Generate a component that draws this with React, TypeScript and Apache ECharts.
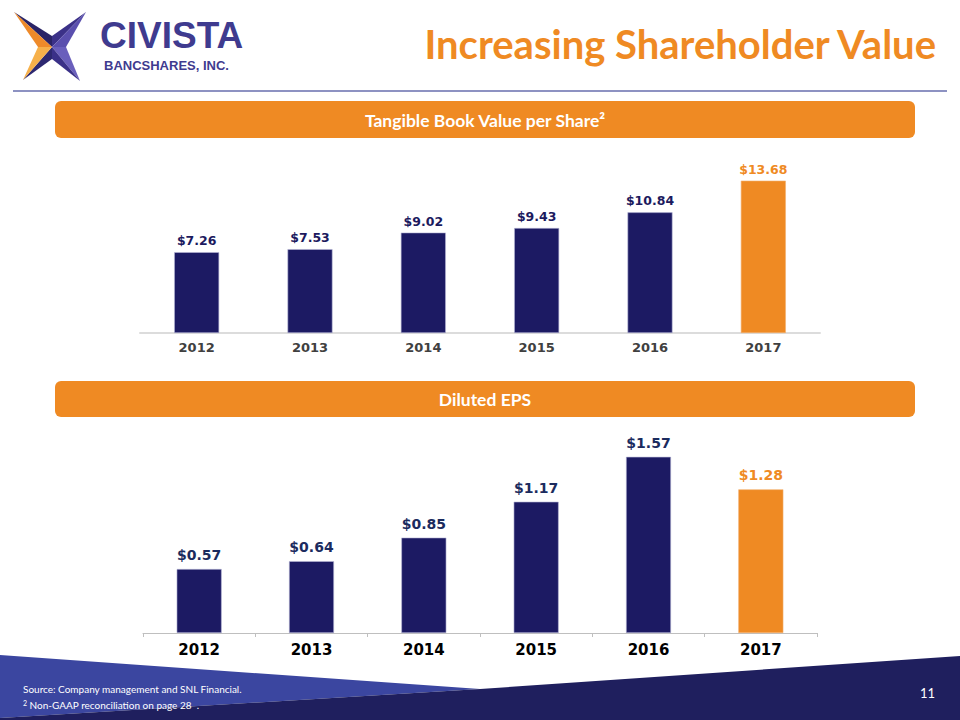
import React, { useEffect, useRef } from "react";
import * as echarts from "echarts";

const years = ["2012", "2013", "2014", "2015", "2016", "2017"];
const tangibleBookValue = [7.26, 7.53, 9.02, 9.43, 10.84, 13.68];
const dilutedEps = [0.57, 0.64, 0.85, 1.17, 1.57, 1.28];
const highlightYear = "2017";

const NAVY = "#1c1a63";
const ORANGE = "#ef8a23";
const LOGO_PURPLE = "#3f3b8f";
const CHART_FONT = "DejaVu Sans";

function barData(values: number[], labelColor: string) {
  return values.map((v, i) => {
    const hi = years[i] === highlightYear;
    return {
      value: v,
      itemStyle: { color: hi ? ORANGE : NAVY, borderColor: hi ? "#f3b071" : "#b9b8d6", borderWidth: 0.6 },
      label: { color: hi ? ORANGE : labelColor },
    };
  });
}

export default function App() {
  const ref = useRef<HTMLDivElement>(null);
  useEffect(() => {
    if (!ref.current) return;
    const chart = echarts.init(ref.current, null, { renderer: "svg" });

    const C = [52, 47];
    const TL = [14, 12], TR = [86, 12], BR = [80, 81], BL = [23, 80];
    const T = [52, 36], R = [66, 47], B = [52, 59], L = [38, 47];
    const tri = (pts: number[][], color: string) => ({
      type: "polygon",
      shape: { points: pts },
      style: { fill: color },
      silent: true,
    });

    const option: any = {
      animation: false,
      backgroundColor: "#ffffff",
      grid: [
        { left: 140, width: 680, top: 166, height: 167 },
        { left: 143, width: 674, top: 431, height: 202 },
      ],
      xAxis: [
        {
          gridIndex: 0,
          type: "category",
          data: years,
          axisLine: { lineStyle: { color: "#dcdcdc", width: 2 } },
          axisTick: { show: false },
          axisLabel: { color: "#404040", fontWeight: "bold", fontSize: 13, fontFamily: CHART_FONT, margin: 8 },
        },
        {
          gridIndex: 1,
          type: "category",
          data: years,
          axisLine: { lineStyle: { color: "#bfbfbf", width: 1 } },
          axisTick: { show: true, length: 4, lineStyle: { color: "#bfbfbf" } },
          axisLabel: { color: "#000000", fontWeight: "bold", fontSize: 15, fontFamily: CHART_FONT, margin: 9 },
        },
      ],
      yAxis: [
        { gridIndex: 0, type: "value", min: 0, max: 15, show: false, splitLine: { show: false } },
        { gridIndex: 1, type: "value", min: 0, max: 1.8, show: false, splitLine: { show: false } },
      ],
      series: [
        {
          type: "bar",
          xAxisIndex: 0,
          yAxisIndex: 0,
          barWidth: 45,
          data: barData(tangibleBookValue, "#1c1a5e"),
          label: {
            show: true,
            position: "top",
            distance: 5,
            fontSize: 12.5,
            fontWeight: "bold",
            fontFamily: CHART_FONT,
            formatter: (p: any) => "$" + Number(p.value).toFixed(2),
          },
        },
        {
          type: "bar",
          xAxisIndex: 1,
          yAxisIndex: 1,
          barWidth: 45,
          data: barData(dilutedEps, "#1b2b5e"),
          label: {
            show: true,
            position: "top",
            distance: 7,
            fontSize: 14,
            fontWeight: "bold",
            fontFamily: CHART_FONT,
            formatter: (p: any) => "$" + Number(p.value).toFixed(2),
          },
        },
      ],
      graphic: [
        // footer
        { type: "polygon", shape: { points: [[0, 655], [480, 689], [0, 718]] }, style: { fill: "#3b46a0" }, silent: true },
        { type: "polygon", shape: { points: [[0, 718], [480, 689], [960, 656], [960, 720], [0, 720]] }, style: { fill: "#1f1f5e" }, silent: true },
        {
          type: "text",
          left: 23,
          top: 684,
          style: { text: "Source: Company management and SNL Financial.", fill: "#ffffff", fontSize: 10, fontFamily: "Lato" },
        },
        {
          type: "text",
          left: 23,
          top: 699,
          style: {
            text: "{s|2} Non-GAAP reconciliation on page 28  .",
            fill: "#ffffff",
            fontSize: 10,
            fontFamily: "Lato",
            rich: { s: { fontSize: 7, verticalAlign: "top", fill: "#ffffff", fontFamily: "Lato", padding: [0, 0, 4, 0] } },
          },
        },
        {
          type: "text",
          x: 935,
          y: 693,
          style: { text: "11", fill: "#ffffff", fontSize: 13, fontFamily: "Lato", align: "right", verticalAlign: "middle" },
        },
        // header rule
        { type: "line", shape: { x1: 13, y1: 91, x2: 947, y2: 91 }, style: { stroke: "#8d92c2", lineWidth: 2 }, silent: true },
        // title
        {
          type: "text",
          x: 936,
          y: 44,
          style: {
            text: "Increasing Shareholder Value",
            fill: ORANGE,
            fontSize: 40,
            fontWeight: "bold",
            fontFamily: "Lato",
            align: "right",
            verticalAlign: "middle",
          },
        },
        // banners
        { type: "rect", shape: { x: 55, y: 101, width: 860, height: 37, r: 6 }, style: { fill: ORANGE }, silent: true },
        {
          type: "text",
          x: 485,
          y: 120,
          style: {
            text: "Tangible Book Value per Share²",
            fill: "#ffffff",
            fontSize: 17.5,
            fontWeight: "bold",
            fontFamily: "Lato",
            align: "center",
            verticalAlign: "middle",
          },
        },
        { type: "rect", shape: { x: 55, y: 381, width: 860, height: 36, r: 6 }, style: { fill: ORANGE }, silent: true },
        {
          type: "text",
          x: 485,
          y: 399,
          style: {
            text: "Diluted EPS",
            fill: "#ffffff",
            fontSize: 17.5,
            fontWeight: "bold",
            fontFamily: "Lato",
            align: "center",
            verticalAlign: "middle",
          },
        },
        // logo star
        tri([TL, T, C], "#2a2466"),
        tri([TL, C, L], "#ee8a2a"),
        tri([TR, T, C], "#3b3188"),
        tri([TR, C, R], "#5a4fae"),
        tri([BR, R, C], "#6a5fbc"),
        tri([BR, C, B], "#3a3088"),
        tri([BL, B, C], "#2d2870"),
        tri([BL, C, L], "#f6b04a"),
        {
          type: "text",
          x: 100,
          y: 35,
          style: {
            text: "CIVISTA",
            fill: LOGO_PURPLE,
            fontSize: 37,
            fontWeight: "bold",
            fontFamily: "Liberation Sans",
            verticalAlign: "middle",
          },
        },
        {
          type: "text",
          x: 104,
          y: 65,
          style: {
            text: "BANCSHARES, INC.",
            fill: LOGO_PURPLE,
            fontSize: 13,
            fontWeight: "bold",
            fontFamily: "Liberation Sans",
            verticalAlign: "middle",
          },
        },
      ],
    };
    chart.setOption(option);
    return () => chart.dispose();
  }, []);
  return <div ref={ref} style={{ position: "fixed", left: 0, top: 0, width: 960, height: 720 }} />;
}
